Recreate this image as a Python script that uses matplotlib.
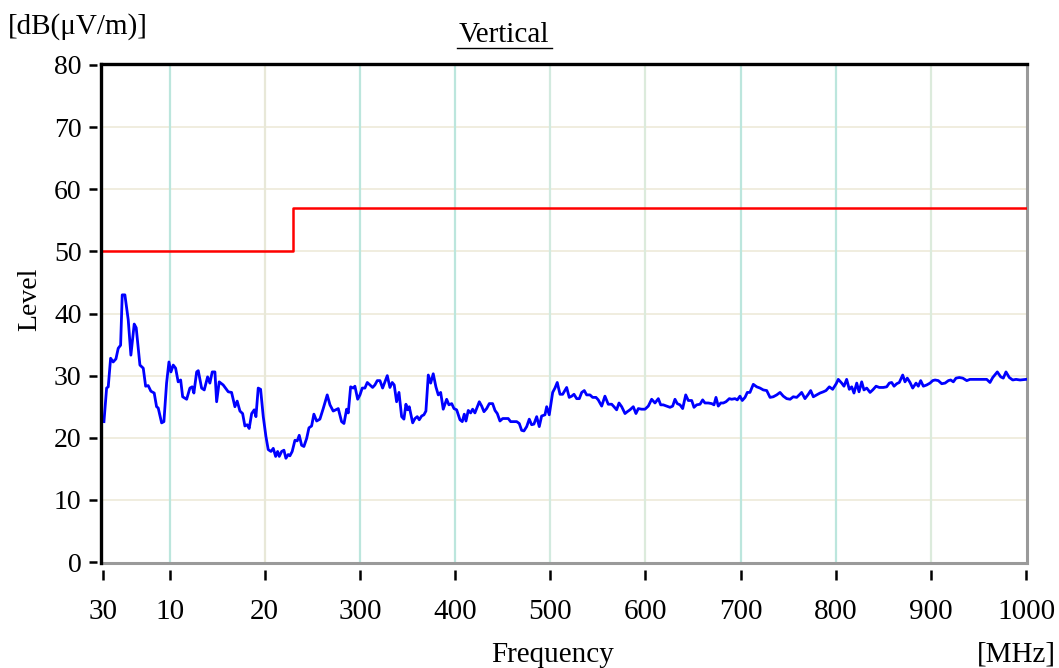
import matplotlib
matplotlib.use("Agg")
import matplotlib.pyplot as plt
from matplotlib.lines import Line2D

plt.rcParams['font.family'] = ['Liberation Serif', 'DejaVu Serif']

# Measured field strength trace (MHz, dB(uV/m))
freq = [31.1, 33.9, 35.6, 38.1, 40.8, 43.7, 46.1, 48.6, 50.3, 53.1, 56.6, 59.4, 62.9, 65.0,
        68.9, 72.4, 74.9, 77.6, 80.4, 83.9, 86.4, 88.1, 91.7, 94.1, 96.9, 99.4, 101.5, 103.9,
        106.4, 109.1, 111.7, 113.8, 118.0, 121.4, 123.8, 125.6, 128.5, 130.2, 133.7, 136.5,
        140.0, 142.4, 144.9, 147.7, 149.5, 152.2, 156.4, 161.7, 165.2, 168.7, 171.1, 174.0,
        176.8, 179.2, 181.6, 183.7, 186.3, 189.0, 190.8, 193.2, 195.7, 198.5, 201.3, 203.7,
        206.6, 209.0, 211.5, 213.6, 215.3, 217.8, 220.2, 222.3, 224.7, 226.5, 228.9, 231.8,
        234.2, 236.3, 238.8, 241.2, 244.1, 246.5, 249.3, 251.7, 254.6, 258.0, 261.5, 265.7,
        268.6, 272.0, 277.3, 280.8, 283.3, 286.1, 287.8, 290.3, 293.0, 294.8, 297.7, 300.1,
        302.5, 305.3, 307.8, 310.6, 313.4, 315.8, 318.3, 321.1, 323.9, 326.4, 328.8, 331.6,
        334.0, 336.1, 338.6, 341.1, 343.9, 346.3, 348.4, 350.2, 351.9, 355.5, 357.9, 360.3,
        362.4, 364.9, 367.3, 369.4, 371.9, 374.4, 377.1, 379.9, 382.4, 384.9, 387.6, 391.2,
        393.6, 396.5, 398.9, 401.7, 405.2, 407.6, 409.7, 411.5, 413.9, 416.4, 418.5, 420.9,
        423.4, 425.5, 428.0, 430.4, 433.2, 436.0, 439.5, 442.0, 444.4, 447.2, 450.1, 452.5,
        455.9, 458.4, 461.2, 464.8, 467.5, 470.0, 472.4, 475.3, 478.0, 480.5, 482.9, 485.8,
        488.5, 491.0, 494.5, 496.3, 499.0, 502.6, 505.0, 507.4, 510.3, 513.1, 517.3, 520.0,
        522.6, 525.0, 527.8, 530.6, 533.1, 535.8, 538.3, 541.8, 544.6, 548.1, 550.5, 554.1,
        557.5, 561.0, 564.6, 567.0, 569.8, 572.3, 575.1, 578.6, 581.0, 583.8, 587.3, 590.1,
        592.6, 596.1, 599.6, 603.1, 606.6, 610.1, 613.6, 616.1, 618.8, 622.4, 625.9, 628.7,
        631.1, 633.5, 636.4, 639.2, 642.4, 645.1, 648.7, 651.1, 653.9, 657.4, 660.2, 662.6,
        666.1, 669.7, 672.1, 674.2, 676.6, 679.2, 681.9, 684.7, 688.2, 690.7, 694.2, 696.6,
        699.4, 701.8, 704.7, 707.1, 709.9, 713.4, 717.0, 720.5, 723.9, 727.5, 731.0, 734.4,
        738.0, 741.5, 744.9, 748.5, 752.1, 755.4, 759.0, 761.7, 764.2, 767.7, 771.2, 773.7,
        776.5, 780.0, 783.5, 787.0, 789.8, 793.3, 796.8, 800.5, 802.7, 806.3, 808.7, 811.5,
        814.3, 816.8, 819.2, 822.1, 824.5, 827.3, 829.7, 832.6, 836.1, 838.9, 842.4, 845.8,
        850.0, 853.6, 856.3, 858.8, 861.3, 864.1, 866.8, 870.4, 872.8, 875.2, 878.1, 880.9,
        884.4, 886.8, 889.3, 892.1, 895.6, 899.1, 901.9, 904.4, 907.8, 911.4, 914.9, 918.4,
        920.8, 923.6, 926.4, 929.9, 933.5, 937.7, 941.1, 944.6, 948.2, 951.6, 955.1, 958.7,
        962.1, 965.0, 969.8, 973.4, 976.1, 978.9, 982.4, 986.0, 989.5, 993.7, 1000.0]

level = [22.6, 28.0, 28.2, 32.8, 32.2, 32.7, 34.4, 34.9, 43.0, 43.0, 39.0, 33.3, 38.3, 37.7,
         31.7, 31.2, 28.3, 28.4, 27.5, 27.2, 25.0, 24.8, 22.4, 22.6, 28.8, 32.2, 30.6, 31.7,
         31.2, 29.0, 29.3, 26.6, 26.2, 28.0, 28.2, 27.2, 30.6, 30.8, 28.0, 27.7,
         29.8, 28.8, 30.6, 30.6, 25.8, 29.0, 28.5, 27.4, 27.3, 25.0, 25.9, 24.3,
         23.9, 21.9, 22.1, 21.5, 23.9, 24.5, 23.4, 28.0, 27.8, 23.4, 20.2, 18.1,
         17.8, 18.3, 17.0, 17.8, 17.0, 17.8, 18.0, 16.7, 17.3, 17.1, 17.8, 19.6,
         19.5, 20.4, 18.8, 18.6, 19.9, 21.6, 21.9, 23.8, 22.7, 23.0, 24.7, 26.9,
         25.3, 24.3, 24.7, 22.6, 22.3, 24.6, 24.0, 28.2, 28.0, 28.3, 26.2, 26.9,
         28.0, 28.0, 28.9, 28.5, 28.1, 28.5, 29.2, 29.2, 28.0, 29.0, 30.0, 28.1,
         28.9, 28.5, 25.8, 27.3, 23.4, 23.0, 25.4, 24.5, 25.0, 22.4, 23.1, 23.4,
         22.9, 23.5, 23.7, 24.3, 30.1, 28.8, 30.3, 28.2, 26.9, 27.3, 24.6, 26.2,
         25.3, 25.5, 24.7, 24.5, 22.9, 22.6, 23.8, 22.7, 24.4, 24.0, 24.6, 24.0,
         25.0, 25.8, 25.1, 24.2, 24.7, 25.5, 25.5, 24.4, 23.9, 22.7, 23.1, 23.1,
         23.1, 22.6, 22.6, 22.6, 22.3, 21.2, 21.1, 21.8, 23.0, 22.1, 22.2, 23.4,
         21.8, 23.5, 23.7, 25.0, 23.7, 27.3, 28.0, 28.9, 27.0, 27.0, 28.1, 26.5,
         26.7, 27.0, 26.3, 26.3, 27.3, 27.6, 26.9, 26.9, 26.5, 26.5, 26.1, 25.1,
         26.7, 25.4, 25.4, 25.0, 24.5, 25.6, 25.0, 23.9, 24.2, 24.5, 25.0, 23.9,
         24.7, 24.6, 24.6, 25.1, 26.2, 25.6, 26.3, 25.3, 25.3, 25.1, 24.9, 25.1,
         26.2, 25.5, 25.3, 24.7, 26.9, 26.0, 26.0, 24.9, 25.3, 25.4, 26.1, 25.6,
         25.6, 25.5, 25.3, 26.5, 25.1, 25.6, 25.6, 25.8, 26.3, 26.2, 26.3, 26.1,
         26.7, 26.0, 26.5, 27.3, 27.3, 28.6, 28.2, 28.0, 27.7, 27.6, 26.5, 26.6,
         26.9, 27.3, 26.7, 26.3, 26.2, 26.6, 26.5, 26.9, 27.3, 26.3, 27.0, 27.6,
         26.6, 26.9, 27.2, 27.4, 27.6, 28.2, 27.8, 28.7, 29.4, 28.8, 28.3, 29.4,
         27.8, 28.2, 27.2, 28.8, 27.4, 29.0, 27.7, 28.0, 27.3, 27.7, 28.3, 28.1,
         28.1, 28.2, 28.8, 28.9, 28.3, 28.7, 28.9, 30.1, 29.0, 29.6, 28.9, 28.0,
         28.8, 28.3, 29.2, 28.3, 28.5, 28.8, 29.2, 29.3, 29.2, 28.7, 28.8, 29.2,
         29.3, 29.0, 29.6, 29.7, 29.6, 29.2, 29.4, 29.4, 29.4, 29.4, 29.4, 29.4,
         28.9, 29.7, 30.6, 29.8, 29.6, 30.6, 29.7, 29.3, 29.4, 29.3, 29.4]

# Limit line (step at 230 MHz)
limit_freq = [30, 230, 230, 1000]
limit_level = [50, 50, 57, 57]

x_ticks = [30, 100, 200, 300, 400, 500, 600, 700, 800, 900, 1000]
x_ticklabels = ["30", "10", "20", "300", "400", "500", "600", "700", "800", "900", "1000"]
y_ticks = [0, 10, 20, 30, 40, 50, 60, 70, 80]

W, H = 1059, 668
fig = plt.figure(figsize=(W / 100, H / 100), dpi=100)
ax = fig.add_axes([101 / W, 1 - 563 / H, (1027 - 101) / W, (563 - 64) / H])

ax.set_xlim(28.0, 1001.0)
ax.set_ylim(-0.15, 80.15)

# grid
for yv in y_ticks[1:-1]:
    ax.axhline(yv, color='#efecdc', lw=1.3, zorder=0)
vcolors = {100: '#bce6dd', 200: '#e8e8d8', 300: '#bce6dd', 400: '#bce6dd', 500: '#d2eadf',
           600: '#dcebdc', 700: '#bce6dd', 800: '#bce6dd', 900: '#dcebdc'}
for xv, c in vcolors.items():
    ax.axvline(xv, color=c, lw=1.6, zorder=0)

ax.plot(limit_freq, limit_level, color='#ff0000', lw=1.8, zorder=3)
ax.plot(freq, level, color='#0000ff', lw=2.0, zorder=4)

# frame
for s in ('left', 'bottom'):
    ax.spines[s].set_visible(False)
ax.spines['left'].set_position(('outward', 3))
ax.spines['bottom'].set_position(('outward', 5))
ax.spines['top'].set_color('black')
ax.spines['top'].set_linewidth(2.4)
ax.spines['right'].set_color('#9a9a9a')
ax.spines['right'].set_linewidth(2.2)
ax.add_line(Line2D([0, 0], [0, 1], transform=ax.transAxes, color='black', lw=2.4,
                   solid_capstyle='projecting', clip_on=False, zorder=6))
ax.add_line(Line2D([0, 1], [0, 0], transform=ax.transAxes, color='#9a9a9a', lw=2.2,
                   clip_on=False, zorder=5))

ax.set_xticks(x_ticks)
ax.set_xticklabels(x_ticklabels)
ax.set_yticks(y_ticks)
ax.tick_params(axis='x', direction='out', length=7, width=1.8, pad=14, labelsize=21)
ax.tick_params(axis='y', direction='out', length=6, width=1.8, pad=5, labelsize=20)

fig.text(30 / W, 1 - 299 / H, "Level", fontsize=20, rotation=90, ha='center', va='center')
fig.text(8 / W, 1 - 27 / H, "[dB(\u03bcV/m)]", fontsize=21, ha='left', va='center')
fig.text(504 / W, 1 - 35 / H, "Vertical", fontsize=21, ha='center', va='center')
fig.add_artist(Line2D([457 / W, 552 / W], [1 - 48 / H, 1 - 48 / H], color='black', lw=1.0))
fig.text(553 / W, 1 - 655 / H, "Frequency", fontsize=21, ha='center', va='center')
fig.text(1056 / W, 1 - 655 / H, "[MHz]", fontsize=21, ha='right', va='center')

fig.savefig("out.png", dpi=100)
